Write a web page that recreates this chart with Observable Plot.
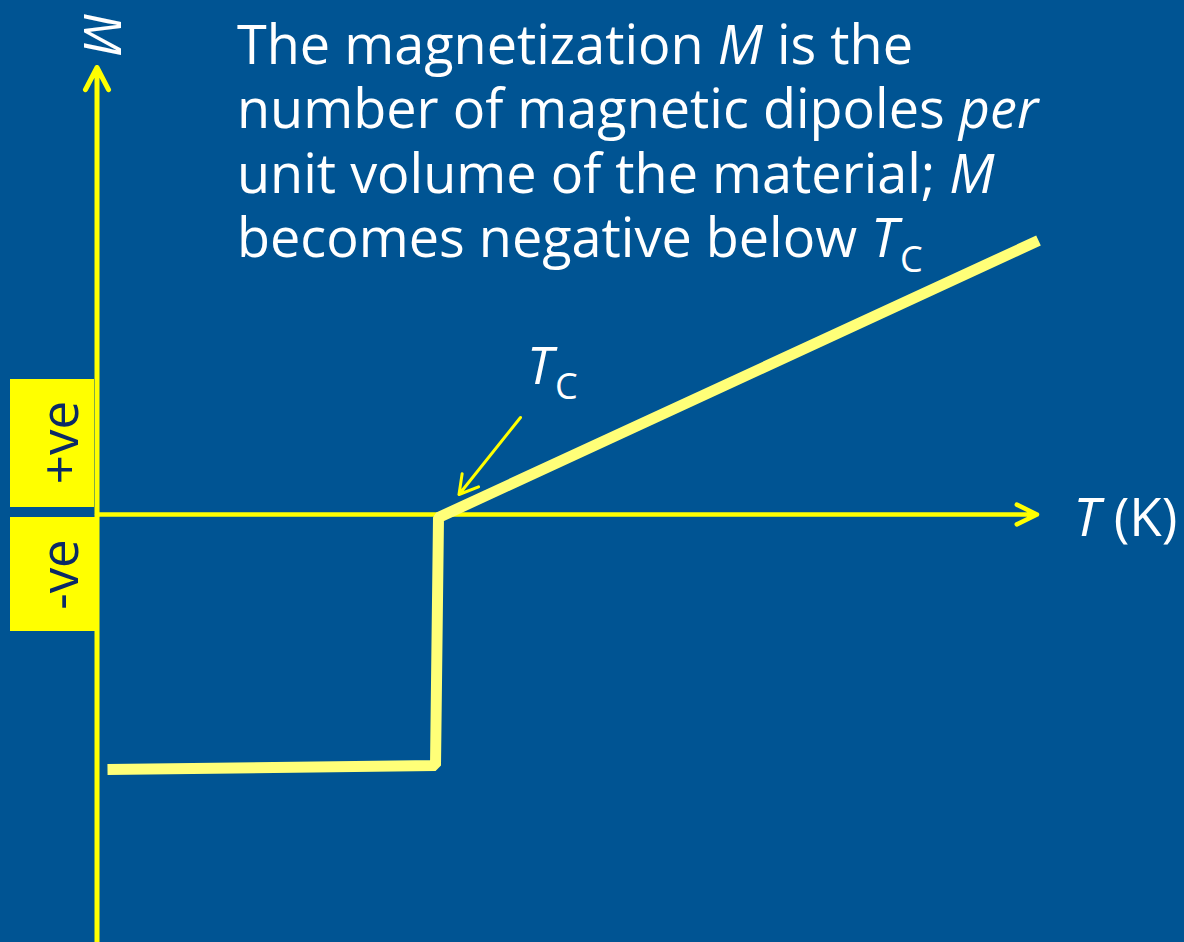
<!DOCTYPE html>
<html>
<head>
<meta charset="utf-8">
<script src="https://cdn.jsdelivr.net/npm/d3@7"></script>
<script src="https://cdn.jsdelivr.net/npm/@observablehq/plot@0.6"></script>
<style>
  html, body { margin: 0; padding: 0; background: #005493; }
  #chart svg { display: block; }
</style>
</head>
<body>
<div id="chart"></div>
<script>
// Schematic magnetization M versus temperature T (arbitrary units, origin at the axes crossing)
const curveT = [0.105, 3.385, 3.415, 9.415];
const curveM = [-2.55, -2.51, -0.03, 2.74];

// Critical temperature marker: arrow start and tip, label anchor
const tcArrowT = [4.235, 3.62];
const tcArrowM = [0.97, 0.20];
const tcLabel = "*T*_C";
const tcLabelT = 4.30;
const tcLabelM = 1.31;

// Axis extents
const axisTMax = 9.40;
const axisMMin = -4.40;
const axisMMax = 4.47;
const axisTLabel = "*T* (K)";
const axisMLabel = "M";

// Sign bands beside the M axis
const bandLabels = ["+ve", "-ve"];
const bandT1 = [-0.865, -0.865];
const bandT2 = [-0.025, 0.0];
const bandM1 = [0.07, -1.17];
const bandM2 = [1.35, -0.03];
const bandLabelT = [-0.355, -0.355];
const bandLabelM = [0.72, -0.60];

// Explanatory note (markup: *italic*, _subscript)
const noteLines = [
  "The magnetization *M* is the",
  "number of magnetic dipoles *per*",
  "unit volume of the material; *M*",
  "becomes negative below *T*_C"
];
const noteLineM = [4.51, 3.87, 3.22, 2.58];
const noteT = 1.40;

const curve = curveT.map((t, i) => ({T: t, M: curveM[i]}));
const bands = bandLabels.map((label, i) => ({
  label, T1: bandT1[i], T2: bandT2[i], M1: bandM1[i], M2: bandM2[i],
  Tc: bandLabelT[i], Mc: bandLabelM[i]
}));
const notes = noteLines.map((text, i) => ({text, M: noteLineM[i]}));

const axisYellow = "#ffff00";
const curveYellow = "#ffff78";
const ink = "#ffffff";

const chart = Plot.plot({
  width: 1184,
  height: 942,
  margin: 0,
  x: {domain: [-0.965, 10.875], range: [0, 1184], axis: null},
  y: {domain: [-4.28, 5.14], range: [942, 0], axis: null},
  style: {background: "#005493", fontFamily: "'Open Sans', sans-serif"},
  marks: [
    // sign bands
    Plot.rect(bands, {x1: "T1", x2: "T2", y1: "M1", y2: "M2", fill: axisYellow}),
    Plot.text(bands, {
      x: "Tc", y: "Mc", text: "label", rotate: -90,
      fontSize: 51, fill: "#0b2a66", textAnchor: "middle", lineAnchor: "middle"
    }),
    // M axis
    Plot.arrow([0], {
      x1: 0, y1: axisMMin, x2: 0, y2: axisMMax,
      stroke: axisYellow, strokeWidth: 5, headLength: 7.5, headAngle: 55,
      strokeLinecap: "round", strokeLinejoin: "round"
    }),
    // T axis
    Plot.arrow([0], {
      x1: 0, y1: 0, x2: axisTMax, y2: 0,
      stroke: axisYellow, strokeWidth: 4.5, headLength: 7.5, headAngle: 52,
      strokeLinecap: "round", strokeLinejoin: "round"
    }),
    // M(T) curve
    Plot.line(curve, {
      x: "T", y: "M", stroke: curveYellow, strokeWidth: 11,
      strokeLinejoin: "miter", strokeLinecap: "butt"
    }),
    // Tc pointer
    Plot.arrow([0], {
      x1: tcArrowT[0], y1: tcArrowM[0], x2: tcArrowT[1], y2: tcArrowM[1],
      stroke: axisYellow, strokeWidth: 3, headLength: 10.5, headAngle: 60,
      strokeLinecap: "round", strokeLinejoin: "round"
    }),
    Plot.text([tcLabel], {
      x: tcLabelT, y: tcLabelM, text: d => d, fontSize: 52, fill: ink,
      textAnchor: "start", lineAnchor: "bottom"
    }),
    // axis titles
    Plot.text([axisTLabel], {
      x: 9.765, y: -0.21, text: d => d, fontSize: 53, fill: ink,
      textAnchor: "start", lineAnchor: "bottom"
    }),
    Plot.text([axisMLabel], {
      x: 0.035, y: 4.81, text: d => d, fontSize: 51, fill: ink, fontStyle: "italic",
      rotate: 90, textAnchor: "middle", lineAnchor: "middle"
    }),
    // note
    Plot.text(notes, {
      x: noteT, y: "M", text: "text", fontSize: 54, fill: ink,
      textAnchor: "start", lineAnchor: "bottom"
    })
  ]
});

// Turn the light markup into italic and subscript tspans
const svgNS = "http://www.w3.org/2000/svg";
d3.select(chart).selectAll("text").each(function () {
  const raw = this.textContent;
  if (!/[*_]/.test(raw)) return;
  this.textContent = "";
  const parts = raw.match(/\*[^*]+\*|_[A-Za-z]|[^*_]+/g);
  for (const p of parts) {
    const span = document.createElementNS(svgNS, "tspan");
    if (p[0] === "*") {
      span.textContent = p.slice(1, -1);
      span.setAttribute("font-style", "italic");
    } else if (p[0] === "_") {
      span.textContent = p.slice(1);
      span.setAttribute("font-size", "36");
      span.setAttribute("dy", "15");
      span.setAttribute("dx", "2");
    } else {
      span.textContent = p;
    }
    this.appendChild(span);
  }
});

document.getElementById("chart").appendChild(chart);
</script>
</body>
</html>
